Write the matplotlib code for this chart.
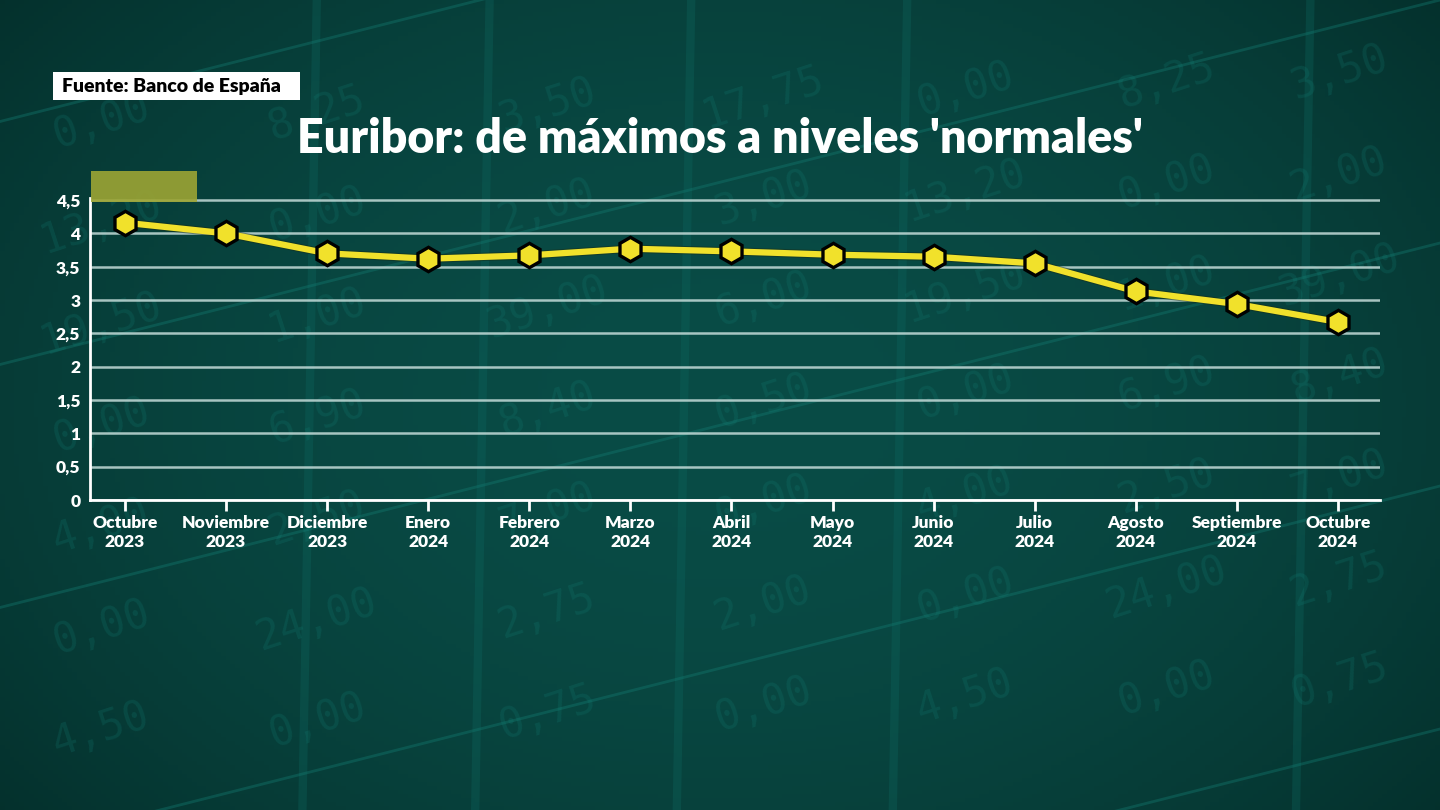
import numpy as np
import matplotlib.pyplot as plt
import matplotlib.patheffects as pe
from matplotlib.patches import Rectangle

# datos: Euribor mensual
meses = ['Octubre\n2023', 'Noviembre\n2023', 'Diciembre\n2023', 'Enero\n2024',
         'Febrero\n2024', 'Marzo\n2024', 'Abril\n2024', 'Mayo\n2024',
         'Junio\n2024', 'Julio\n2024', 'Agosto\n2024', 'Septiembre\n2024',
         'Octubre\n2024']
euribor = [4.16, 4.00, 3.70, 3.62, 3.67, 3.77, 3.73, 3.68, 3.65, 3.55, 3.13, 2.94, 2.67]
y_ticks = [0, 0.5, 1, 1.5, 2, 2.5, 3, 3.5, 4, 4.5]
y_labels = ['0', '0,5', '1', '1,5', '2', '2,5', '3', '3,5', '4', '4,5']

# numeros decorativos del fondo (pantalla de bolsa)
fondo_numeros = ['0,00', '13,20', '19,50', '0,00', '4,00', '0,00', '4,50',
                 '8,25', '0,00', '1,00', '6,90', '2,50', '24,00', '0,00',
                 '3,50', '2,00', '39,00', '8,40', '7,00', '2,75', '0,75',
                 '17,75', '3,00', '6,00', '0,50', '0,00', '2,00', '0,00']

plt.rcParams['font.family'] = ['Lato', 'DejaVu Sans']

fig = plt.figure(figsize=(14.4, 8.1), dpi=100)

# fondo con degradado
bg = fig.add_axes([0, 0, 1, 1], zorder=-10)
xx, yy = np.meshgrid(np.linspace(-1, 1, 300), np.linspace(-1, 1, 200))
r = np.clip(1 - 0.55 * (xx ** 2) - 0.35 * (yy ** 2), 0, 1)
c0 = np.array([4, 46, 42]) / 255
c1 = np.array([9, 76, 70]) / 255
img = c0 + (c1 - c0) * r[..., None]
bg.imshow(img, extent=[0, 1, 0, 1], aspect='auto', origin='lower')
for x0 in [0.21, 0.33, 0.47, 0.62, 0.9]:
    bg.plot([x0, x0 + 0.01], [0, 1], color='#0e6a62', lw=6, alpha=0.3)
for y0 in [-0.35, -0.05, 0.25, 0.55, 0.85]:
    bg.plot([0, 1], [y0, y0 + 0.45], color='#137a70', lw=2, alpha=0.4)
cols = [0.07, 0.22, 0.38, 0.53, 0.67, 0.81, 0.93]
k = 0
for i, cx in enumerate(cols):
    for j, cy in enumerate(np.arange(0.85, 0.05, -0.125)):
        bg.text(cx, cy + 0.01 * i, fondo_numeros[k % len(fondo_numeros)],
                fontsize=30, color='#138076', alpha=0.22, rotation=18,
                ha='center', va='center', family='DejaVu Sans Mono')
        k += 1
bg.set_xlim(0, 1)
bg.set_ylim(0, 1)
bg.axis('off')

# grafico
ax = fig.add_axes([0.0625, 0.3827, 0.8958, 0.3724])
ax.set_facecolor('none')
x = np.arange(len(meses))
ax.plot(x, euribor, color='#f1e12b', lw=4.5, solid_capstyle='round', zorder=3,
        path_effects=[pe.Stroke(linewidth=6, foreground='#1a2a10', alpha=0.45), pe.Normal()])
ax.plot(x, euribor, ls='none', marker='h', ms=17.5, mfc='#f1e12b', mec='black',
        mew=2.4, zorder=4)

ax.set_xlim(-0.346, 12.416)
ax.set_ylim(0, 4.525)
ax.set_yticks(y_ticks)
ax.set_yticklabels(y_labels)
ax.set_xticks(x)
ax.set_xticklabels(meses, linespacing=1.25)
for t in ax.get_yticklabels() + ax.get_xticklabels():
    t.set_color('white')
    t.set_fontweight('heavy')
    t.set_fontsize(12.5)
ax.tick_params(axis='y', length=0, pad=7)
ax.tick_params(axis='x', length=8, width=2, color='white', pad=2.5)
ax.grid(axis='y', color='#c4dcd9', lw=1.8, alpha=0.85)
ax.set_axisbelow(True)
for s in ['top', 'right']:
    ax.spines[s].set_visible(False)
for s in ['left', 'bottom']:
    ax.spines[s].set_color('white')
    ax.spines[s].set_linewidth(2)

# recuadro amarillo arriba a la izquierda
fig.patches.append(Rectangle((0.0632, 0.7506), 0.0736, 0.0383, transform=fig.transFigure,
                             facecolor='#9da534', edgecolor='none', alpha=0.9, zorder=1))

# fuente
fig.patches.append(Rectangle((0.0368, 0.8765), 0.1715, 0.0346, transform=fig.transFigure,
                             facecolor='white', edgecolor='none', zorder=1))
fig.text(0.043, 0.8935, 'Fuente: Banco de España', fontsize=14, fontweight='heavy',
         color='black', ha='left', va='center')

fig.text(0.5, 0.829, "Euribor: de máximos a niveles 'normales'", fontsize=33.5,
         fontweight='heavy', color='white', ha='center', va='center')

fig.savefig('out.png', dpi=100)
